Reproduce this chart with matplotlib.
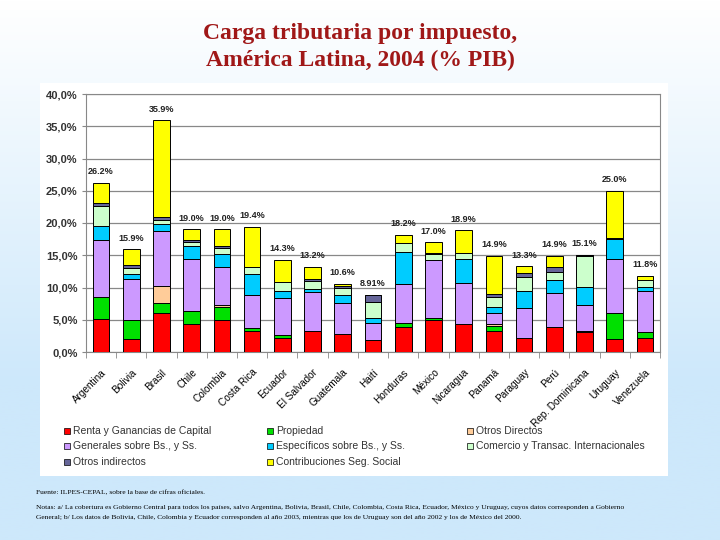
import numpy as np
import matplotlib
matplotlib.use("Agg")
import matplotlib.pyplot as plt
from matplotlib.patches import Rectangle
from matplotlib.colors import LinearSegmentedColormap

# Countries on the x axis
countries = ["Argentina", "Bolivia", "Brasil", "Chile", "Colombia", "Costa Rica", "Ecuador",
             "El Salvador", "Guatemala", "Haití", "Honduras", "México", "Nicaragua", "Panamá",
             "Paraguay", "Perú", "Rep. Dominicana", "Uruguay", "Venezuela"]

# Tax components, % of GDP (stacked from bottom to top)
renta = [5.1, 2.0, 6.1, 4.3, 5.0, 3.2, 2.1, 3.3, 2.75, 1.8, 3.9, 5.0, 4.3, 3.3, 2.1, 3.85, 3.05, 2.0, 2.1]
propiedad = [3.35, 3.0, 1.5, 2.0, 2.05, 0.5, 0.55, 0.0, 0.0, 0.0, 0.55, 0.2, 0.0, 0.75, 0.0, 0.0, 0.1, 4.0, 0.95]
otros_directos = [0.0, 0.0, 2.6, 0.0, 0.3, 0.0, 0.0, 0.0, 0.0, 0.0, 0.0, 0.0, 0.0, 0.25, 0.0, 0.0, 0.15, 0.0, 0.0]
generales = [8.95, 6.3, 8.5, 8.1, 5.85, 5.1, 5.7, 6.0, 4.85, 2.65, 6.05, 9.1, 6.4, 1.7, 4.65, 5.25, 3.95, 8.4, 6.4]
especificos = [2.15, 0.8, 1.2, 2.0, 2.05, 3.3, 1.05, 0.45, 1.2, 0.8, 5.0, 0.0, 3.7, 1.05, 2.7, 2.0, 2.85, 3.1, 0.7]
comercio = [3.05, 0.9, 0.6, 0.7, 0.8, 1.1, 1.45, 1.2, 1.2, 2.55, 1.4, 0.85, 1.0, 1.55, 2.25, 1.3, 4.85, 0.0, 1.0]
otros_indirectos = [0.5, 0.5, 0.5, 0.3, 0.4, 0.0, 0.0, 0.35, 0.3, 1.11, 0.0, 0.25, 0.0, 0.4, 0.5, 0.8, 0.15, 0.2, 0.0]
contribuciones = [3.15, 2.4, 14.9, 1.6, 2.55, 6.2, 3.45, 1.9, 0.3, 0.0, 1.3, 1.6, 3.5, 5.9, 1.1, 1.7, 0.0, 7.3, 0.65]

total_labels = ["26.2%", "15.9%", "35.9%", "19.0%", "19.0%", "19.4%", "14.3%", "13.2%", "10.6%", "8.91%",
                "18.2%", "17.0%", "18.9%", "14.9%", "13.3%", "14.9%", "15.1%", "25.0%", "11.8%"]

series = [
    ("Renta y Ganancias de Capital", renta, "#ff0000"),
    ("Propiedad", propiedad, "#00e000"),
    ("Otros Directos", otros_directos, "#ffcc99"),
    ("Generales sobre Bs., y Ss.", generales, "#cc99ff"),
    ("Específicos sobre Bs., y Ss.", especificos, "#00ccff"),
    ("Comercio y Transac. Internacionales", comercio, "#ccffcc"),
    ("Otros indirectos", otros_indirectos, "#666699"),
    ("Contribuciones Seg. Social", contribuciones, "#ffff00"),
]

fig = plt.figure(figsize=(7.2, 5.4), dpi=100)

# Slide background: white on top fading to light blue
bg = fig.add_axes([0, 0, 1, 1], zorder=-10)
grad = np.clip(np.linspace(0, 1.4, 256), 0, 1).reshape(-1, 1)
cmap = LinearSegmentedColormap.from_list("slide", ["#ffffff", "#cde8fb"])
bg.imshow(grad, aspect="auto", cmap=cmap, extent=[0, 1, 0, 1], origin="upper")
bg.axis("off")

# White box behind the chart
fig.patches.append(Rectangle((40 / 720, 64 / 540), 628 / 720, 393 / 540, transform=fig.transFigure,
                             facecolor="white", edgecolor="none", zorder=-5))

fig.text(0.5, 1 - 47 / 540, "Carga tributaria por impuesto,\nAmérica Latina, 2004 (% PIB)", ha="center",
         va="center", fontsize=17, fontweight="bold", family="Liberation Serif", color="#a01818",
         linespacing=1.35)

ax = fig.add_axes([86 / 720, 1 - 352 / 540, 574 / 720, 258 / 540])
x = np.arange(len(countries))
bottom = np.zeros(len(countries))
for name, vals, color in series:
    ax.bar(x, vals, 0.55, bottom=bottom, color=color, edgecolor="black", linewidth=0.7, zorder=3)
    bottom += np.array(vals)

for xi, top, lab in zip(x, bottom, total_labels):
    ax.text(xi, top + 1.0, lab, ha="center", va="bottom", fontsize=6.5, fontweight="bold",
            family="Liberation Sans", color="#222222")

ax.set_xlim(-0.5, len(countries) - 0.5)
ax.set_ylim(0, 40)
ax.set_yticks(np.arange(0, 41, 5))
ax.set_yticklabels([f"{v:.1f}%".replace(".", ",") for v in np.arange(0, 41, 5)],
                   fontsize=8, fontweight="bold", family="Liberation Sans", color="#333333")
ax.yaxis.grid(True, color="#888888", linewidth=0.9, zorder=0)
ax.set_axisbelow(True)
for s in ax.spines.values():
    s.set_color("#888888")

# category labels centred on bars, tick marks between categories
ax.set_xticks(x)
ax.set_xticklabels(countries, rotation=45, ha="right", rotation_mode="anchor", fontsize=7.2,
                   family="Liberation Sans")
ax.tick_params(axis="x", length=0, pad=11)
ax.set_xticks(np.arange(len(countries) + 1) - 0.5, minor=True)
ax.tick_params(axis="x", which="minor", length=4, color="#888888")
ax.tick_params(axis="y", length=3, color="#888888", pad=3)

# legend laid out like the original (three columns)
col_x = [64, 267, 467]
row_y = [431, 446, 462]
for i, (name, vals, color) in enumerate(series):
    cx = col_x[i % 3]
    cy = row_y[i // 3]
    fig.patches.append(Rectangle((cx / 720, 1 - (cy + 3) / 540), 6 / 720, 6 / 540, transform=fig.transFigure,
                                 facecolor=color, edgecolor="black", linewidth=0.5))
    fig.text((cx + 9) / 720, 1 - cy / 540, name, ha="left", va="center", fontsize=7.5,
             family="Liberation Sans", color="#333333")

notes = [
    "Fuente: ILPES-CEPAL, sobre la base de cifras oficiales.",
    "Notas: a/ La cobertura es Gobierno Central para todos los países, salvo Argentina, Bolivia, Brasil, Chile, "
    "Colombia, Costa Rica, Ecuador, México y Uruguay, cuyos datos corresponden a Gobierno",
    "General; b/ Los datos de Bolivia, Chile, Colombia y Ecuador corresponden al año 2003, mientras que los de "
    "Uruguay son del año 2002 y los de México del 2000.",
]
for ny, line in zip([493, 507, 517], notes):
    fig.text(36 / 720, 1 - ny / 540, line, ha="left", va="center", fontsize=5.4, family="Liberation Serif",
             color="black")

fig.savefig("out.png", dpi=100)
